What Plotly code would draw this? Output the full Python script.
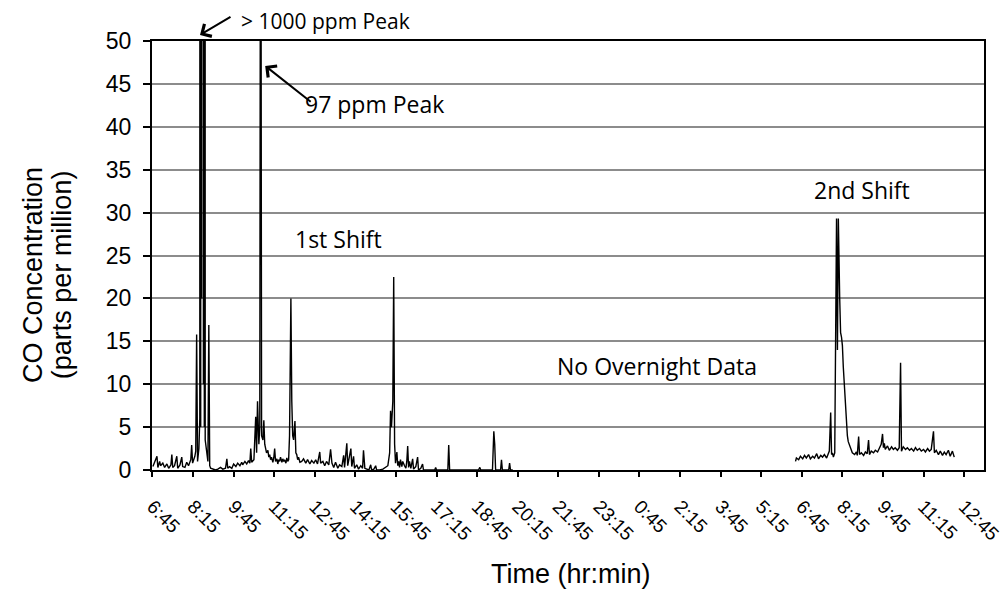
import plotly.graph_objects as go

# Elapsed minutes since 6:45 on day 1, and CO concentration (ppm)
shift1_minutes = [1, 5, 10, 12, 16, 18, 23, 27, 32, 36, 41, 43, 45, 49, 54, 56, 61, 65, 67, 72, 76, 80, 85, 87, 89, 94, 96, 98, 100, 103, 105,
                  106, 107, 108, 109, 110, 111, 112, 113, 114, 115, 116, 117,
                  118, 120, 123, 125, 127, 129, 134, 140, 145, 151, 156, 162, 165, 167, 171, 176, 180, 185, 189, 194, 198, 200, 205, 209, 213, 216, 218, 220, 225, 227, 229, 231, 233, 236, 238, 240, 242, 245, 247, 249, 251, 253, 256, 258, 260, 262, 264, 267, 269, 271, 273, 276, 278, 280, 282, 284, 287, 289, 291, 293, 296, 298, 300, 302, 304, 307, 309, 311, 313, 316, 318, 320, 322, 324, 327, 331, 335, 340, 344, 349, 353, 358, 362, 366, 371, 373, 378, 382, 386, 391, 395, 398, 402, 406, 411, 415, 420, 424, 426, 431, 433, 435, 440, 442, 446, 448, 453, 457, 462, 466, 468, 471, 475, 480, 484, 486, 491, 495, 497, 504, 511, 517, 522, 526, 528, 530, 533, 535, 537, 539, 542, 544, 546, 548, 550, 553, 555, 559, 562, 564, 566, 568, 570, 573, 577, 579, 584, 588, 590, 595, 599, 601, 626, 628, 630, 655, 657, 659, 723, 726, 728, 754, 757, 759, 761, 772, 774, 776, 790, 792, 794, 799]
shift1_ppm = [0.4, 0.9, 1.6, 0.3, 1.0, 0.5, 0.8, 0.3, 0.7, 0.2, 0.6, 1.8, 0.3, 0.5, 1.6, 0.2, 0.6, 1.5, 0.4, 0.3, 0.9, 0.5, 1.2, 2.9, 0.8, 1.6, 2.2, 15.8, 1.0, 2.5, 6.0,
              300, 5, 900, 20, 1000, 50, 800, 10, 700, 5, 400, 3.5,
              3.0, 2.0, 1.0, 16.9, 0.5, 0.2, 0.1, 0.0, 0.1, 0.3, 0.1, 0.2, 1.3, 0.2, 0.4, 0.2, 0.7, 0.4, 0.8, 0.5, 0.9, 0.6, 1.0, 0.7, 1.1, 0.8, 2.5, 0.9, 1.2, 3.5, 6.2, 2.0, 8.0, 3.0, 5.0, 97, 4.0, 3.5, 5.8, 3.0, 2.5, 2.0, 2.3, 1.5, 1.8, 1.2, 1.5, 0.9, 1.4, 2.5, 1.0, 1.3, 0.7, 1.2, 1.0, 1.5, 0.9, 1.3, 1.0, 1.2, 0.8, 1.4, 1.0, 1.2, 4.0, 20.0, 8.0, 4.0, 3.5, 5.7, 2.0, 1.8, 1.2, 1.5, 0.9, 1.0, 1.3, 0.8, 1.2, 0.7, 1.1, 0.8, 1.2, 0.7, 2.1, 0.8, 1.0, 0.5, 1.0, 0.6, 2.4, 0.8, 0.3, 0.9, 0.2, 0.6, 0.4, 1.7, 0.3, 3.1, 0.5, 1.0, 2.5, 0.4, 1.6, 0.2, 0.6, 0.1, 0.5, 0.2, 2.3, 0.2, 0.1, 0.0, 0.6, 0.0, 0.1, 0.5, 0.0, 0.0, 0.1, 0.3, 0.5, 2.0, 6.9, 5.0, 8.0, 22.5, 3.0, 0.8, 2.1, 0.5, 1.0, 0.3, 1.2, 0.4, 1.0, 0.5, 0.2, 1.0, 2.8, 0.3, 1.0, 0.2, 1.3, 0.1, 0.4, 1.5, 0.0, 0.2, 0.7, 0.0, 0.0, 0.3, 0.0, 0.0, 2.9, 0.0, 0.0, 0.3, 0.0, 0.0, 4.5, 3.0, 0.0, 0.0, 1.2, 0.0, 0.0, 0.8, 0.0, 0.0]

shift2_minutes = [1426, 1428, 1433, 1437, 1442, 1446, 1450, 1455, 1459, 1464, 1468, 1473, 1477, 1482, 1486, 1490, 1495, 1499, 1501, 1504, 1506, 1508, 1510, 1513, 1515, 1517, 1519, 1521, 1524, 1526, 1528, 1530, 1532, 1535, 1537, 1539, 1541, 1543, 1546, 1548, 1550, 1552, 1557, 1561, 1563, 1566, 1568, 1572, 1577, 1581, 1585, 1588, 1590, 1594, 1599, 1603, 1608, 1612, 1616, 1619, 1621, 1623, 1625, 1630, 1634, 1639, 1643, 1647, 1652, 1656, 1659, 1661, 1665, 1670, 1674, 1679, 1683, 1688, 1692, 1696, 1701, 1705, 1710, 1714, 1719, 1723, 1727, 1732, 1734, 1738, 1743, 1747, 1752, 1756, 1760, 1765, 1769, 1774, 1778]
shift2_ppm = [1.0, 1.4, 1.2, 1.6, 1.3, 1.7, 1.4, 1.8, 1.3, 1.6, 1.4, 1.9, 1.3, 1.7, 1.5, 1.8, 1.4, 1.9, 2.2, 6.7, 1.8, 2.0, 1.5, 2.0, 13, 29.3, 14, 29.3, 20, 16, 15.5, 14.5, 12, 9, 6.5, 5, 4, 3.3, 2.8, 2.4, 2.2, 2.0, 1.8, 2.1, 1.7, 3.9, 1.8, 2.0, 1.7, 2.1, 1.9, 3.5, 1.8, 2.2, 2.0, 2.3, 2.1, 2.5, 3.0, 4.2, 2.6, 3.1, 2.4, 2.8, 2.3, 2.7, 2.4, 2.6, 2.3, 2.6, 12.5, 2.2, 2.7, 2.4, 2.6, 2.3, 2.5, 2.2, 2.6, 2.3, 2.5, 2.2, 2.4, 2.1, 2.5, 2.2, 2.4, 4.5, 2.0, 2.3, 1.8, 2.2, 1.7, 2.1, 1.8, 2.3, 1.6, 2.2, 1.5]

tick_labels = ["6:45", "8:15", "9:45", "11:15", "12:45", "14:15", "15:45", "17:15", "18:45",
               "20:15", "21:45", "23:15", "0:45", "2:15", "3:45", "5:15", "6:45", "8:15",
               "9:45", "11:15", "12:45"]
tick_step_minutes = 90
y_ticks = [0, 5, 10, 15, 20, 25, 30, 35, 40, 45, 50]

xs = shift1_minutes + [None] + shift2_minutes
ys = shift1_ppm + [None] + shift2_ppm

fig = go.Figure()
fig.add_trace(go.Scatter(x=xs, y=ys, mode="lines", connectgaps=False,
                         line=dict(color="black", width=1.4), showlegend=False,
                         hoverinfo="skip"))

text_font = dict(family="Open Sans", size=23, color="black")
annotations = []
# in-plot labels (data coords)
for x, y, t in [(493, 42.6, "97 ppm Peak"), (413, 26.9, "1st Shift"),
                (1573, 32.6, "2nd Shift"), (1118, 12.1, "No Overnight Data")]:
    annotations.append(dict(x=x, y=y, xref="x", yref="y", text=t, showarrow=False,
                            font=text_font, xanchor="center", yanchor="middle"))
# label above the plot (paper coords)
annotations.append(dict(x=0.1046, y=1.047, xref="paper", yref="paper", text="> 1000 ppm Peak",
                        showarrow=False, font=dict(family="Open Sans", size=21, color="black"),
                        xanchor="left", yanchor="middle"))
# arrows
annotations.append(dict(x=0.0577, y=1.014, xref="paper", yref="paper", text="", showarrow=True,
                        ax=32, ay=-19, arrowhead=4, arrowsize=1.4, arrowwidth=2,
                        arrowcolor="black"))
annotations.append(dict(x=250, y=47.1, xref="x", yref="y", text="", showarrow=True,
                        ax=47, ay=37, arrowhead=4, arrowsize=1.4, arrowwidth=2,
                        arrowcolor="black"))
# axis titles
title_font = dict(family="Liberation Sans, Arial", size=27, color="black")
annotations.append(dict(x=-0.143, y=0.4545, xref="paper", yref="paper", text="CO Concentration",
                        textangle=-90, showarrow=False, font=title_font,
                        xanchor="center", yanchor="middle"))
annotations.append(dict(x=-0.108, y=0.4545, xref="paper", yref="paper", text="(parts per million)",
                        textangle=-90, showarrow=False, font=title_font,
                        xanchor="center", yanchor="middle"))
annotations.append(dict(x=0.504, y=-0.2424, xref="paper", yref="paper", text="Time (hr:min)",
                        showarrow=False, font=title_font, xanchor="center", yanchor="middle"))

fig.update_layout(
    width=1008, height=589,
    margin=dict(l=144, r=32, t=33, b=127),
    paper_bgcolor="white", plot_bgcolor="white",
    font=dict(family="Liberation Sans, Arial", color="black"),
    annotations=annotations,
)
fig.update_xaxes(
    range=[-1, 1844],
    tickmode="array",
    tickvals=[i * tick_step_minutes for i in range(len(tick_labels))],
    ticktext=tick_labels,
    tickangle=45,
    tickfont=dict(size=19),
    ticks="outside", ticklen=5, tickwidth=1.5, tickcolor="black",
    ticklabelstandoff=11,
    showgrid=False, zeroline=False,
    showline=True, linecolor="black", linewidth=2, mirror=True,
)
fig.update_yaxes(
    range=[0, 50],
    tickmode="array", tickvals=y_ticks,
    tickfont=dict(size=23),
    ticks="outside", ticklen=7, tickwidth=1.5, tickcolor="black",
    ticklabelstandoff=7,
    showgrid=True, gridcolor="#8c8c8c", gridwidth=1.5, zeroline=False,
    showline=True, linecolor="black", linewidth=2, mirror=True,
)

fig.write_html("out.html")
